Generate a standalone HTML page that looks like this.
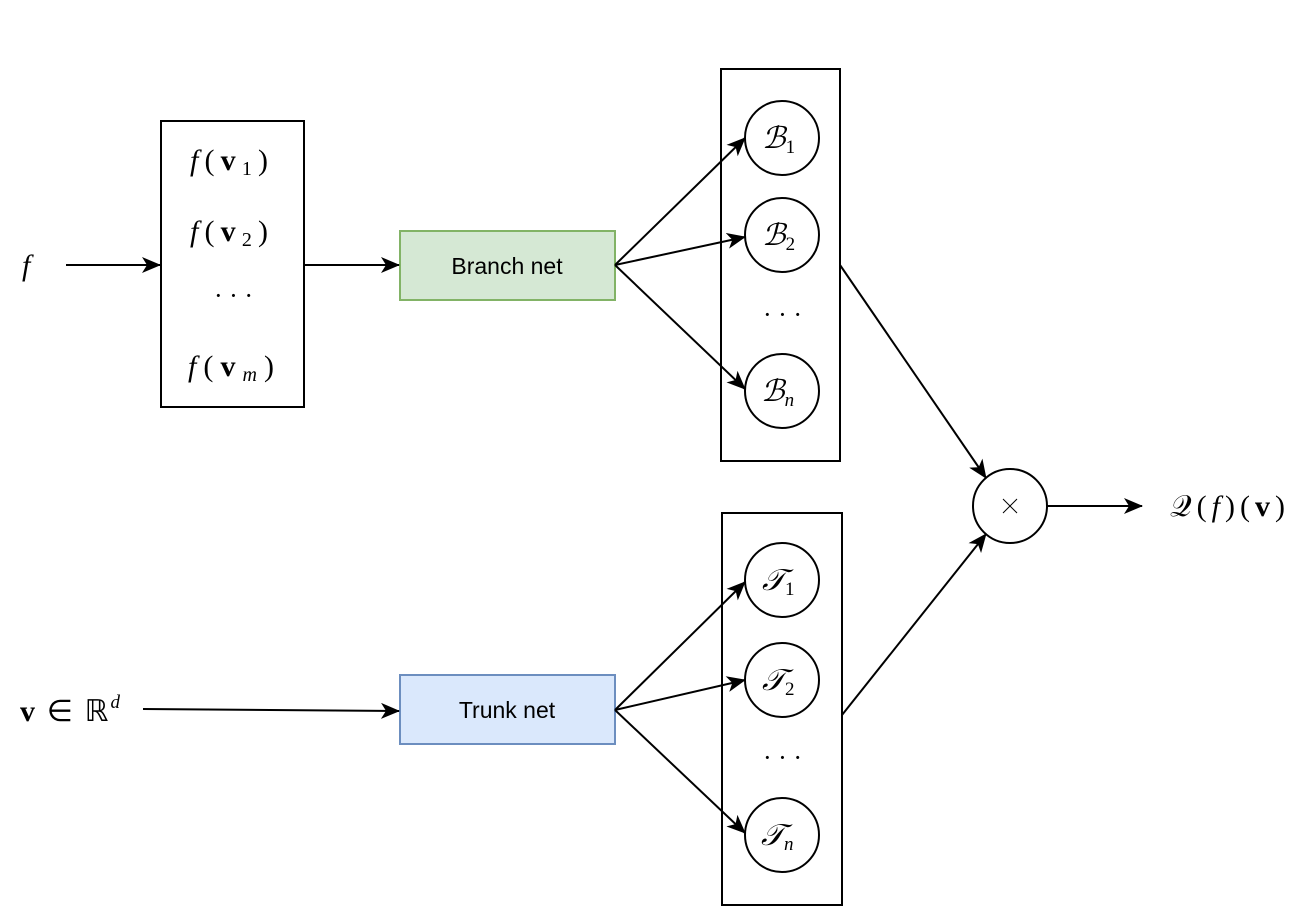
<!DOCTYPE html>
<html><head><style>
body{margin:0;background:#fff;}
svg text{font-family:"Liberation Serif",serif;}
</style></head><body>
<svg width="1294" height="918" viewBox="0 0 1294 918" xmlns="http://www.w3.org/2000/svg">
<defs>
<marker id="a" markerWidth="20" markerHeight="16" refX="18" refY="8" orient="auto" markerUnits="userSpaceOnUse" viewBox="0 0 20 16">
<path d="M0,0 L19,8 L0,16 L5,8 Z" fill="#000"/>
</marker>
</defs>
<g stroke="#000" stroke-width="2" fill="none">
<rect x="161" y="121" width="143" height="286" fill="#fff"/>
<rect x="400" y="231" width="215" height="69" fill="#d5e8d4" stroke="#82b366"/>
<rect x="400" y="675" width="215" height="69" fill="#dae8fc" stroke="#6c8ebf"/>
<rect x="721" y="69" width="119" height="392"/>
<rect x="722" y="513" width="120" height="392"/>
<ellipse cx="782" cy="138" rx="37" ry="37"/>
<ellipse cx="782" cy="235" rx="37" ry="37"/>
<ellipse cx="782" cy="391" rx="37" ry="37"/>
<ellipse cx="782" cy="580" rx="37" ry="37"/>
<ellipse cx="782" cy="680" rx="37" ry="37"/>
<ellipse cx="782" cy="835" rx="37" ry="37"/>
<ellipse cx="1010" cy="506" rx="37" ry="37"/>
<line x1="66" y1="265" x2="160" y2="265" marker-end="url(#a)"/>
<line x1="304" y1="265" x2="399" y2="265" marker-end="url(#a)"/>
<line x1="615" y1="265" x2="745" y2="138" marker-end="url(#a)"/>
<line x1="615" y1="265" x2="745" y2="237" marker-end="url(#a)"/>
<line x1="615" y1="265" x2="745" y2="389" marker-end="url(#a)"/>
<line x1="143" y1="709" x2="399" y2="711" marker-end="url(#a)"/>
<line x1="615" y1="710" x2="745" y2="582" marker-end="url(#a)"/>
<line x1="615" y1="710" x2="745" y2="680" marker-end="url(#a)"/>
<line x1="615" y1="710" x2="745" y2="833" marker-end="url(#a)"/>
<line x1="840" y1="265" x2="986" y2="478" marker-end="url(#a)"/>
<line x1="842" y1="715" x2="986" y2="534" marker-end="url(#a)"/>
<line x1="1047" y1="506" x2="1142" y2="506" marker-end="url(#a)"/>
<line x1="1003" y1="499" x2="1017" y2="513" stroke-width="1"/>
<line x1="1017" y1="499" x2="1003" y2="513" stroke-width="1"/>
</g>
<g font-size="30" fill="#000">
<text x="22" y="275" font-style="italic">f</text>
<text x="190" y="170" textLength="78" lengthAdjust="spacing"><tspan font-style="italic">f</tspan>(<tspan font-weight="bold">v</tspan><tspan font-size="20" dy="5">1</tspan><tspan dy="-5">)</tspan></text>
<text x="190" y="241" textLength="78" lengthAdjust="spacing"><tspan font-style="italic">f</tspan>(<tspan font-weight="bold">v</tspan><tspan font-size="20" dy="5">2</tspan><tspan dy="-5">)</tspan></text>
<text x="214" y="304" font-size="26">· · ·</text>
<text x="188" y="376" textLength="86" lengthAdjust="spacing"><tspan font-style="italic">f</tspan>(<tspan font-weight="bold">v</tspan><tspan font-size="20" dy="5" font-style="italic">m</tspan><tspan dy="-5">)</tspan></text>
<text x="763" y="323" font-size="26">· · ·</text>
<text x="763" y="766" font-size="26">· · ·</text>
<text x="762" y="148" font-style="italic">ℬ<tspan font-size="19" dy="5" font-style="normal">1</tspan></text>
<text x="762" y="245" font-style="italic">ℬ<tspan font-size="19" dy="5" font-style="normal">2</tspan></text>
<text x="761" y="401" font-style="italic">ℬ<tspan font-size="19" dy="5">n</tspan></text>
<text x="762" y="590" font-style="italic">𝒯<tspan font-size="19" dy="5" font-style="normal">1</tspan></text>
<text x="762" y="690" font-style="italic">𝒯<tspan font-size="19" dy="5" font-style="normal">2</tspan></text>
<text x="761" y="845" font-style="italic">𝒯<tspan font-size="19" dy="5">n</tspan></text>
<text x="20" y="721" textLength="100" lengthAdjust="spacing"><tspan font-weight="bold">v</tspan> ∈ ℝ<tspan font-size="19" dy="-13" font-style="italic">d</tspan></text>
<text x="1170" y="516" textLength="115" lengthAdjust="spacing">𝒬(<tspan font-style="italic">f</tspan>)(<tspan font-weight="bold">v</tspan>)</text>
</g>
<g font-size="23" fill="#000" text-anchor="middle">
<text x="507" y="274" style="font-family:'Liberation Sans',sans-serif">Branch net</text>
<text x="507" y="718" style="font-family:'Liberation Sans',sans-serif">Trunk net</text>
</g>
</svg>
</body></html>
